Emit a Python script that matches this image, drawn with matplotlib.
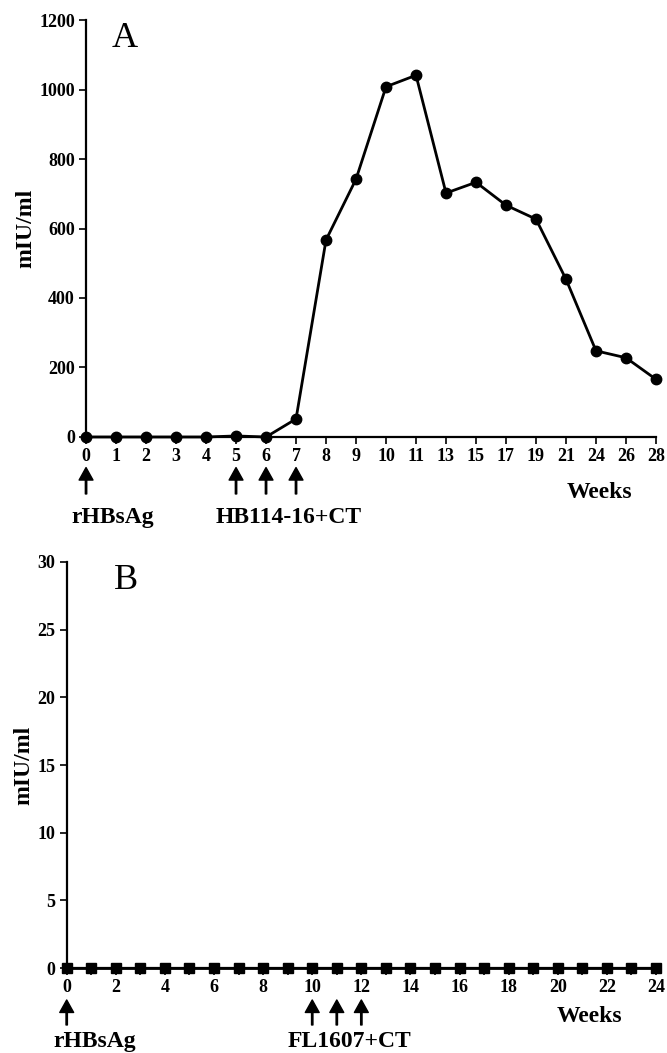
import matplotlib.pyplot as plt

plt.rcParams['font.family'] = ['Liberation Serif', 'DejaVu Serif']
plt.rcParams['font.weight'] = 'bold'

# Panel A data (x axis is categorical: equal spacing)
weeks_a = ['0', '1', '2', '3', '4', '5', '6', '7', '8', '9', '10', '11',
           '13', '15', '17', '19', '21', '24', '26', '28']
miu_a = [0, 0, 0, 0, 0, 3, 0, 52, 567, 742, 1008, 1041,
         702, 733, 667, 627, 454, 248, 228, 166]
arrows_a = [0, 5, 6, 7]

# Panel B data
weeks_b = list(range(0, 25))
miu_b = [0] * 25
arrows_b = [0, 10, 11, 12]


def style_axis(ax):
    for s in ['top', 'right']:
        ax.spines[s].set_visible(False)
    for s in ['left', 'bottom']:
        ax.spines[s].set_linewidth(1.6)
    ax.tick_params(direction='out', length=5, width=1.2, labelsize=13, pad=3)
    ax.set_ylabel('mIU/ml', fontsize=17, fontweight='bold', labelpad=2)


def add_arrow(ax, x, tip, base):
    ax.annotate('', xy=(x, tip), xycoords=('data', 'axes points'),
                xytext=(x, base), textcoords=('data', 'axes points'),
                arrowprops=dict(facecolor='black', edgecolor='black',
                                width=1.0, headwidth=10, headlength=9),
                annotation_clip=False)


def add_label(ax, x, y, s, size=17):
    ax.annotate(s, xy=(x, y), xycoords=('data', 'axes points'),
                ha='center', va='center', fontsize=size, fontweight='bold',
                annotation_clip=False)


fig = plt.figure(figsize=(6.67, 10.53), dpi=100)

# ---- Panel A ----
ax1 = fig.add_axes([0.129, 0.585, 0.8545, 0.396])
xa = list(range(len(weeks_a)))
ax1.plot(xa, miu_a, color='black', linewidth=2, marker='o', markersize=7.5,
         clip_on=False, zorder=3)
ax1.set_xlim(0, len(weeks_a) - 1)
ax1.set_ylim(0, 1200)
ax1.set_yticks(range(0, 1201, 200))
ax1.set_xticks(xa)
ax1.set_xticklabels(weeks_a)
style_axis(ax1)
ax1.text(0.068, 0.955, 'A', transform=ax1.transAxes, fontsize=26,
         fontweight='normal', ha='center', va='center')
for w in arrows_a:
    add_arrow(ax1, w, -22, -41)
add_label(ax1, 0.9, -58, 'rHBsAg')
add_label(ax1, 6.77, -58, 'HB114-16+CT')
add_label(ax1, 17.1, -40, 'Weeks')

# ---- Panel B ----
ax2 = fig.add_axes([0.100, 0.0807, 0.8835, 0.3856])
ax2.plot(weeks_b, miu_b, color='black', linewidth=2, marker='s', markersize=7.5,
         clip_on=False, zorder=3)
ax2.set_xlim(0, 24)
ax2.set_ylim(0, 30)
ax2.set_yticks(range(0, 31, 5))
ax2.set_xticks(range(0, 25, 2))
ax2.set_xticks(range(1, 25, 2), minor=True)
style_axis(ax2)
ax2.tick_params(which='minor', direction='out', length=5, width=1.2)
ax2.text(0.1, 0.955, 'B', transform=ax2.transAxes, fontsize=26,
         fontweight='normal', ha='center', va='center')
for w in arrows_b:
    add_arrow(ax2, w, -23, -41)
add_label(ax2, 1.14, -53, 'rHBsAg')
add_label(ax2, 11.5, -53, 'FL1607+CT')
add_label(ax2, 21.3, -35, 'Weeks')

fig.savefig('out.png', dpi=100)
